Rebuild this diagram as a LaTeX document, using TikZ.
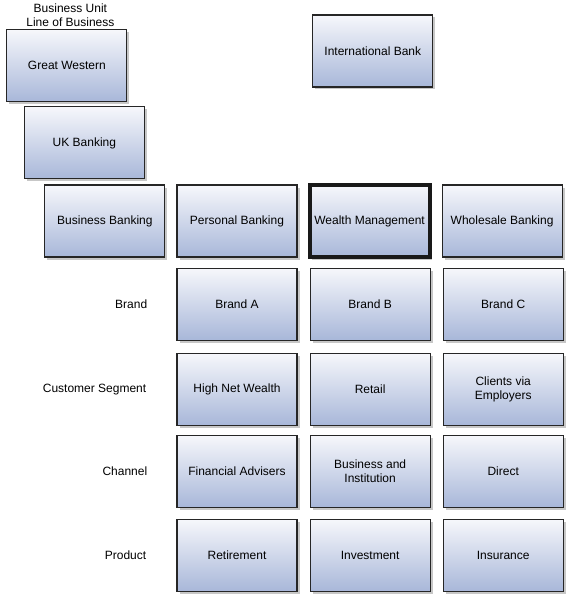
\documentclass[tikz,border=0pt]{standalone}
\usepackage{fontspec}
\setmainfont{Liberation Sans}
\usetikzlibrary{positioning, shadows}
\definecolor{boxtop}{HTML}{F6F7FB}
\definecolor{boxbot}{HTML}{A8B7D9}
\tikzstyle{box} = [rectangle, minimum width=120pt, minimum height=72pt, inner sep=1pt, text centered, align=center, draw=black!85, line width=1.1pt, top color=boxtop, bottom color=boxbot, drop shadow={shadow xshift=2.5pt, shadow yshift=-2.5pt, fill=black!22, opacity=1}]
\tikzstyle{chosen} = [line width=4pt, draw=black!90]
\tikzstyle{rowlabel} = [anchor=east, align=right, inner sep=0pt]

\begin{document}
\begin{tikzpicture}[font=\fontsize{12}{14}\selectfont]
\useasboundingbox (0,0) rectangle (566pt,-596pt);
% business unit / line of business
\node (pb) [box] at (237pt,-221pt) {Personal Banking};
\node (bb) [box, left=11pt of pb] {Business Banking};
\node (uk) [box, above=5pt of bb, xshift=-20.5pt] {UK Banking};
\node (gw) [box, above=4pt of uk, xshift=-17.5pt] {Great Western};
\node (hdr) [above=0pt of gw, xshift=3.5pt, align=center, inner sep=2pt] {Business Unit\\Line of Business};
\node (wm) [box, chosen, right=10pt of pb] {Wealth Management};
\node (wb) [box, right=10pt of wm] {Wholesale Banking};
\node (ib) [box] at (372.8pt,-51pt) {International Bank};

% brand
\node (bA) [box, below=10pt of pb] {Brand A};
\node (bB) [box, right=12pt of bA] {Brand B};
\node (bC) [box, right=12pt of bB] {Brand C};
\node (lBrand) [rowlabel, left=29pt of bA] {Brand};

% customer segment
\node (s1) [box, below=12pt of bA] {High Net Wealth};
\node (s2) [box, right=12pt of s1] {Retail};
\node (s3) [box, right=12pt of s2] {Clients via\\Employers};
\node (lSeg) [rowlabel, left=30pt of s1] {Customer Segment};

% channel
\node (c1) [box, below=9pt of s1] {Financial Advisers};
\node (c2) [box, right=12pt of c1] {Business and\\Institution};
\node (c3) [box, right=12pt of c2] {Direct};
\node (lChan) [rowlabel, left=29pt of c1] {Channel};

% product
\node (p1) [box, below=11pt of c1] {Retirement};
\node (p2) [box, right=12pt of p1] {Investment};
\node (p3) [box, right=12pt of p2] {Insurance};
\node (lProd) [rowlabel, left=30pt of p1] {Product};
\end{tikzpicture}
\end{document}
